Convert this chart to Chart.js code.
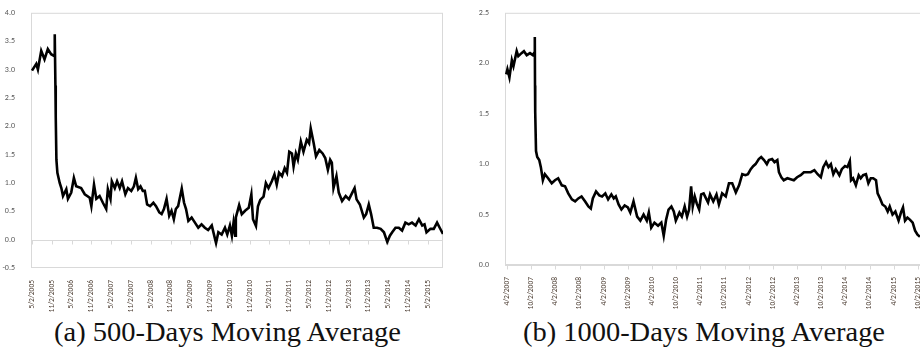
<!DOCTYPE html>
<html>
<head>
    <title>Moving Averages</title>
    <script src="https://cdnjs.cloudflare.com/ajax/libs/Chart.js/4.4.1/chart.umd.min.js"></script>
    <style>
        body { margin: 0; width: 920px; height: 356px; overflow: hidden; position: relative; background: #fff; }
        canvas { position: absolute; top: 0; }
        #chartA { left: 0; }
        #chartB { left: 460px; }
        .caption {
            position: absolute; top: 319px; white-space: nowrap;
            font-family: 'Liberation Serif', 'Times New Roman', serif; font-size: 27px; line-height: 1; color: #111;
            transform-origin: 0 0;
        }
    </style>
</head>
<body>
    <canvas id="chartA" width="460" height="312"></canvas>
    <canvas id="chartB" width="480" height="312"></canvas>
    <div class="caption" id="capA">(a) 500-Days Moving Average</div>
    <div class="caption" id="capB">(b) 1000-Days Moving Average</div>

    <script>
        // tick labels, one every 6 months
        const ticks500 = ['5/2/2005', '11/2/2005', '5/2/2006', '11/2/2006', '5/2/2007', '11/2/2007',
            '5/2/2008', '11/2/2008', '5/2/2009', '11/2/2009', '5/2/2010', '11/2/2010', '5/2/2011',
            '11/2/2011', '5/2/2012', '11/2/2012', '5/2/2013', '11/2/2013', '5/2/2014', '11/2/2014', '5/2/2015'];
        const ticks1000 = ['4/2/2007', '10/2/2007', '4/2/2008', '10/2/2008', '4/2/2009', '10/2/2009',
            '4/2/2010', '10/2/2010', '4/2/2011', '10/2/2011', '4/2/2012', '10/2/2012', '4/2/2013',
            '10/2/2013', '4/2/2014', '10/2/2014', '4/2/2015', '10/2/2015'];

        // 500-day series: months since 5/2/2005 and value
        const months500 = [0, 1.3, 1.8, 2.8, 3.8, 4.8, 5.8, 6.7, 6.9, 7.1,
            7.2, 7.4, 7.7, 8.4, 8.9, 9.4, 10.4, 10.9, 11.9, 12.7,
            13.4, 14.9, 16.0, 17.5, 18.0, 18.8, 19.5, 20.5, 21.5, 22.5,
            23.0, 23.8, 24.2, 25.1, 25.8, 26.6, 27.3, 28.3, 29.1, 30.1,
            30.9, 31.5, 32.2, 32.9, 33.6, 34.2, 34.9, 35.8, 36.8, 37.6,
            38.6, 39.3, 40.0, 40.8, 41.6, 42.3, 43.0, 43.6, 44.3, 45.4,
            46.1, 46.7, 47.4, 48.4, 49.4, 50.4, 51.4, 52.4, 53.4, 54.5,
            55.5, 55.8, 56.5, 57.5, 58.5, 59.2, 60.0, 60.6, 61.1, 61.6,
            61.8, 62.8, 63.6, 64.6, 65.7, 66.5, 67.0, 67.9, 68.5, 69.2,
            70.2, 70.9, 71.7, 72.7, 73.5, 74.2, 74.9, 75.8, 76.6, 77.3,
            78.0, 78.8, 79.3, 80.0, 80.6, 81.5, 82.3, 83.3, 84.0, 84.5,
            85.4, 86.1, 87.1, 88.1, 88.9, 89.7, 90.4, 90.9, 91.4, 92.3,
            93.0, 94.0, 95.1, 96.1, 97.1, 97.8, 98.4, 99.4, 100.6, 101.3,
            102.1, 102.8, 103.6, 104.6, 105.7, 106.7, 107.7, 108.5, 109.2, 110.2,
            111.2, 112.2, 113.2, 114.2, 115.2, 116.3, 117.3, 118.3, 119.0, 119.6,
            120.8, 121.8, 122.8, 123.6, 124.6];
        const ma500 = [2.98, 3.10, 3.00, 3.33, 3.18, 3.36, 3.27, 3.24, 3.62, 2.72,
            2.17, 1.41, 1.18, 1.00, 0.91, 0.77, 0.89, 0.72, 0.83, 1.09,
            0.94, 0.91, 0.80, 0.74, 0.59, 0.97, 0.72, 0.77, 0.65, 0.54,
            0.89, 0.72, 1.03, 0.91, 1.03, 0.91, 1.03, 0.80, 0.91, 0.86,
            0.94, 1.09, 0.89, 0.94, 0.86, 0.86, 0.62, 0.59, 0.65, 0.59,
            0.48, 0.45, 0.54, 0.72, 0.42, 0.51, 0.36, 0.54, 0.59, 0.90,
            0.65, 0.54, 0.33, 0.39, 0.30, 0.21, 0.27, 0.21, 0.17, 0.25,
            0.01, -0.06, 0.13, 0.09, 0.21, 0.09, 0.25, 0.07, 0.30, 0.07,
            0.39, 0.61, 0.45, 0.51, 0.56, 0.80, 0.36, 0.24, 0.59, 0.70,
            0.76, 1.00, 0.91, 1.03, 1.15, 0.97, 1.18, 1.12, 1.26, 1.18,
            1.55, 1.52, 1.29, 1.52, 1.41, 1.73, 1.55, 1.76, 1.70, 1.96,
            1.70, 1.47, 1.58, 1.52, 1.44, 1.23, 1.41, 1.36, 0.91, 1.12,
            0.83, 0.68, 0.77, 0.71, 0.83, 0.91, 0.71, 0.62, 0.39, 0.45,
            0.62, 0.45, 0.21, 0.21, 0.19, 0.13, -0.04, 0.07, 0.13, 0.21,
            0.21, 0.16, 0.30, 0.27, 0.30, 0.25, 0.36, 0.25, 0.27, 0.13,
            0.19, 0.19, 0.30, 0.21, 0.10];

        // 1000-day series: months since 4/2/2007 and value
        const months1000 = [-0.2, 0.1, 0.6, 1.2, 1.6, 2.4, 2.8, 3.6, 4.2, 4.9,
            5.7, 6.4, 6.7, 6.9, 6.95, 7.0, 7.2, 7.5, 8.0, 8.4,
            8.9, 9.4, 10.2, 11.1, 11.9, 12.7, 13.6, 14.4, 15.2, 16.1,
            16.9, 17.7, 18.5, 19.4, 20.2, 20.8, 21.3, 22.1, 22.9, 23.6,
            24.4, 25.1, 25.9, 26.5, 27.0, 27.7, 28.4, 29.2, 30.0, 30.6,
            31.4, 32.3, 33.1, 33.9, 34.7, 35.2, 35.8, 36.6, 37.5, 38.3,
            38.9, 39.5, 40.1, 40.8, 41.4, 41.9, 42.8, 43.4, 44.1, 44.7,
            45.2, 45.7, 46.1, 46.6, 47.1, 47.7, 48.2, 48.8, 49.4, 49.9,
            50.4, 51.2, 52.0, 52.6, 53.4, 54.3, 55.1, 55.9, 56.8, 57.6,
            58.4, 59.2, 59.8, 60.5, 61.1, 61.7, 62.5, 63.1, 63.8, 64.5,
            65.0, 65.8, 66.4, 67.1, 67.5, 68.1, 68.7, 69.6, 70.4, 71.2,
            72.0, 72.9, 73.7, 74.5, 75.4, 76.3, 77.1, 77.9, 78.5, 79.2,
            79.8, 80.4, 81.0, 81.6, 82.5, 83.1, 83.9, 84.5, 85.1, 85.4,
            85.9, 86.6, 87.3, 87.8, 88.4, 89.1, 89.7, 90.3, 90.9, 91.6,
            92.0, 92.6, 93.2, 93.9, 94.5, 95.0, 95.7, 96.4, 97.2, 97.8,
            98.3, 98.8, 99.4, 100.0, 100.7, 101.3, 101.9, 102.5];
        const ma1000 = [1.89, 1.94, 1.86, 2.03, 1.97, 2.12, 2.07, 2.10, 2.12, 2.08,
            2.10, 2.08, 2.10, 2.26, 1.78, 1.52, 1.13, 1.07, 1.04, 0.97,
            0.84, 0.90, 0.86, 0.81, 0.84, 0.86, 0.79, 0.78, 0.71, 0.65,
            0.63, 0.66, 0.68, 0.63, 0.58, 0.56, 0.66, 0.73, 0.69, 0.68,
            0.71, 0.65, 0.70, 0.66, 0.68, 0.60, 0.55, 0.59, 0.57, 0.52,
            0.63, 0.48, 0.44, 0.50, 0.44, 0.52, 0.37, 0.42, 0.39, 0.42,
            0.29, 0.45, 0.55, 0.58, 0.53, 0.44, 0.52, 0.48, 0.58, 0.48,
            0.55, 0.78, 0.58, 0.68, 0.61, 0.55, 0.70, 0.71, 0.66, 0.62,
            0.70, 0.63, 0.70, 0.60, 0.71, 0.68, 0.81, 0.81, 0.72, 0.79,
            0.90, 0.89, 0.90, 0.95, 0.98, 1.00, 1.05, 1.07, 1.04, 1.00,
            1.04, 1.05, 1.02, 1.04, 0.92, 0.87, 0.84, 0.86, 0.85, 0.84,
            0.87, 0.89, 0.92, 0.92, 0.92, 0.94, 0.90, 0.87, 0.97, 1.02,
            0.97, 1.00, 0.90, 0.95, 0.89, 0.95, 0.98, 0.97, 1.03, 0.84,
            0.86, 0.79, 0.89, 0.86, 0.89, 0.90, 0.81, 0.86, 0.86, 0.84,
            0.71, 0.66, 0.60, 0.58, 0.53, 0.58, 0.50, 0.53, 0.44, 0.52,
            0.57, 0.44, 0.47, 0.45, 0.42, 0.34, 0.30, 0.28];

        // light plot frame, zero line and the small tick marks on it (Excel style)
        const framePlugin = {
            id: 'frame',
            beforeDatasetsDraw(chart) {
                const { ctx, chartArea: a, scales } = chart;
                ctx.save();
                ctx.strokeStyle = '#d9d9d9';
                ctx.lineWidth = 1;
                ctx.strokeRect(a.left + 0.5, a.top + 0.5, a.right - a.left - 1, a.bottom - a.top - 1);
                const y0 = Math.round(scales.y.getPixelForValue(0)) + 0.5;
                ctx.beginPath();
                ctx.moveTo(a.left, y0);
                ctx.lineTo(a.right, y0);
                scales.x.ticks.forEach(t => {
                    const x = Math.round(scales.x.getPixelForValue(t.value)) + 0.5;
                    ctx.moveTo(x, y0);
                    ctx.lineTo(x, y0 + 4);
                });
                ctx.stroke();
                ctx.restore();
            }
        };

        function makeChart(id, months, values, labels, o) {
            return new Chart(document.getElementById(id), {
                type: 'line',
                data: {
                    datasets: [{
                        data: months.map((m, i) => ({ x: m, y: values[i] })),
                        borderColor: '#000',
                        borderWidth: 2.6,
                        borderJoinStyle: 'miter',
                        pointRadius: 0,
                        tension: 0,
                        fill: false
                    }]
                },
                options: {
                    responsive: false,
                    animation: false,
                    layout: { padding: { top: o.top, right: o.right, left: 0, bottom: 0 } },
                    plugins: { legend: { display: false }, tooltip: { enabled: false } },
                    scales: {
                        x: {
                            type: 'linear',
                            min: o.xMin,
                            max: o.xMax,
                            grid: { display: false },
                            border: { display: false },
                            afterBuildTicks: s => { s.ticks = labels.map((_, i) => ({ value: i * 6 })); },
                            afterFit: s => { s.height = o.xHeight; },
                            ticks: {
                                autoSkip: false,
                                minRotation: 90,
                                maxRotation: 90,
                                padding: 4,
                                color: '#4a3b30',
                                font: { family: 'Carlito, Lato, sans-serif', size: 7.5 },
                                callback: (v, i) => labels[i]
                            }
                        },
                        y: {
                            min: o.yMin,
                            max: o.yMax,
                            grid: { display: false },
                            border: { display: false },
                            afterFit: s => { s.width = o.yWidth; },
                            ticks: {
                                stepSize: 0.5,
                                padding: 8,
                                color: '#595959',
                                font: { family: 'Carlito, Lato, sans-serif', size: 8 },
                                callback: v => v.toFixed(1)
                            }
                        }
                    }
                },
                plugins: [framePlugin]
            });
        }

        makeChart('chartA', months500, ma500, ticks500,
            { xMin: -0.3, xMax: 124.6, yMin: -0.5, yMax: 4.0, yWidth: 31, xHeight: 44, top: 10, right: 17 });
        makeChart('chartB', months1000, ma1000, ticks1000,
            { xMin: -0.5, xMax: 105, yMin: 0, yMax: 2.5, yWidth: 45, xHeight: 47, top: 7, right: 10 });

        // fit each caption to its width in the reference
        function fitCaption(id, center, width) {
            const el = document.getElementById(id);
            const w = el.getBoundingClientRect().width;
            const k = width / w;
            el.style.left = (center - width / 2) + 'px';
            el.style.transform = 'scaleX(' + k + ')';
        }
        fitCaption('capA', 227, 347);
        fitCaption('capB', 704, 362);
    </script>
</body>
</html>
